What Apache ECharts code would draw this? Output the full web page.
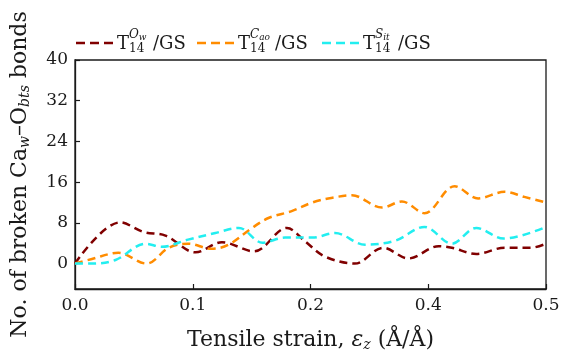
<!DOCTYPE html>
<html>
<head>
<meta charset="utf-8">
<script src="https://cdn.jsdelivr.net/npm/echarts@6/dist/echarts.min.js"></script>
<style>
  html, body { margin: 0; padding: 0; background: #fff; }
  #chart { width: 567px; height: 350px; }
</style>
</head>
<body>
<div id="chart"></div>
<script>
// Broken Ca_w–O_bts bond counts versus tensile strain for three T14 configurations.
const xTickLabels = ['0.0', '0.1', '0.2', '0.4', '0.5'];
const yTicks = [0, 8, 16, 24, 32, 40];

const strainOw = [0, 0.048, 0.073, 0.096, 0.128, 0.156, 0.190, 0.225, 0.244, 0.265, 0.297, 0.327, 0.354, 0.386, 0.400, 0.426, 0.456, 0.484, 0.5];
const bondsOw  = [0, 8.1, 6.2, 5.5, 2.2, 4.2, 2.4, 7.0, 4.4, 1.4, 0.0, 3.1, 1.0, 3.4, 3.1, 1.9, 3.1, 3.1, 3.9];

const strainCao = [0, 0.018, 0.046, 0.076, 0.0995, 0.120, 0.145, 0.163, 0.188, 0.206, 0.230, 0.252, 0.272, 0.294, 0.326, 0.347, 0.371, 0.403, 0.428, 0.456, 0.477, 0.5];
const bondsCao  = [0, 0.9, 2.1, 0.0, 3.1, 3.9, 2.9, 3.7, 7.0, 9.0, 10.3, 12.0, 12.9, 13.4, 11.0, 12.2, 9.9, 15.2, 12.8, 14.1, 13.1, 12.0];

const strainSit = [0, 0.018, 0.043, 0.075, 0.092, 0.120, 0.149, 0.174, 0.199, 0.223, 0.252, 0.276, 0.308, 0.340, 0.371, 0.400, 0.426, 0.455, 0.5];
const bondsSit  = [0, 0.0, 0.7, 3.9, 3.3, 4.7, 6.0, 7.0, 4.1, 5.1, 5.1, 6.0, 3.7, 4.5, 7.2, 3.9, 7.0, 4.9, 7.2];

const seriesSup = ['Ow', 'Cao', 'Sit'];
const seriesColors = ['#800000', '#ff8c00', '#22eef0'];

const FONT = '"DejaVu Serif", "Liberation Serif", serif';
const INK = '#1a1a1a';
const dash = [8, 5];

function pairs(xs, ys) { return xs.map((x, i) => [x, ys[i]]); }

function lineSeries(name, xs, ys, color) {
  return {
    name: name,
    type: 'line',
    data: pairs(xs, ys),
    smooth: 0.35,
    showSymbol: false,
    lineStyle: { color: color, width: 2.5, type: dash },
    itemStyle: { color: color },
    z: 3
  };
}

// Legend entries: dashed sample, T with stacked super/subscript, then /GS
const legendX = [76, 197, 322];
const slashX = [153, 275, 398];
const legendY = 43;
const legendGraphics = [];
seriesSup.forEach((sup, i) => {
  const x0 = legendX[i];
  const base = sup.charAt(0);
  const tail = sup.slice(1);
  legendGraphics.push({
    type: 'line',
    shape: { x1: x0, y1: legendY, x2: x0 + 37, y2: legendY },
    style: { stroke: seriesColors[i], lineWidth: 2.5, lineDash: [9, 5] }
  });
  legendGraphics.push({
    type: 'text',
    x: x0 + 41, y: legendY + 1,
    style: { text: 'T', font: '18px ' + FONT, fill: INK, textVerticalAlign: 'middle' }
  });
  legendGraphics.push({
    type: 'text',
    x: x0 + 53, y: legendY - 1,
    style: {
      text: '{b|' + base + '}{t|' + tail + '}',
      fill: INK,
      textVerticalAlign: 'bottom',
      rich: {
        b: { fontFamily: FONT, fontSize: 12, fontStyle: 'italic', fill: INK },
        t: { fontFamily: FONT, fontSize: 9, fontStyle: 'italic', fill: INK, padding: [5, 0, 0, 0] }
      }
    }
  });
  legendGraphics.push({
    type: 'text',
    x: x0 + 53, y: legendY,
    style: { text: '14', font: '12px ' + FONT, fill: INK, textVerticalAlign: 'top' }
  });
  legendGraphics.push({
    type: 'text',
    x: slashX[i], y: legendY + 1,
    style: { text: '/GS', font: '18px ' + FONT, fill: INK, textVerticalAlign: 'middle' }
  });
});

const chart = echarts.init(document.getElementById('chart'), null, { renderer: 'canvas' });
chart.setOption({
  animation: false,
  backgroundColor: '#fff',
  grid: {
    left: 75, right: 21, top: 60, bottom: 61,
    outerBoundsMode: 'none',
    containLabel: false,
    show: true, borderColor: INK, borderWidth: 1.3, backgroundColor: 'transparent'
  },
  xAxis: {
    type: 'value',
    min: 0, max: 0.5, interval: 0.125,
    axisLine: { show: true, onZero: false, lineStyle: { color: INK, width: 1.3 } },
    axisTick: { show: true, inside: true, length: 5, lineStyle: { color: INK, width: 1.2 } },
    axisLabel: {
      formatter: function (v) { return xTickLabels[Math.round(v / 0.125)]; },
      fontFamily: FONT, fontSize: 17, color: INK, margin: 8
    },
    splitLine: { show: false },
    name: '{r|Tensile strain, }{i|ε}{s|z}{r| (Å/Å)}',
    nameLocation: 'middle',
    nameGap: 39,
    nameTextStyle: {
      rich: {
        r: { fontFamily: FONT, fontSize: 22, color: INK },
        i: { fontFamily: FONT, fontSize: 22, fontStyle: 'italic', color: INK },
        s: { fontFamily: FONT, fontSize: 14, fontStyle: 'italic', color: INK, padding: [10, 0, 0, 0] }
      }
    }
  },
  yAxis: {
    type: 'value',
    min: -5, max: 40,
    axisLine: { show: true, lineStyle: { color: INK, width: 1.3 } },
    axisTick: { show: true, inside: true, length: 5, customValues: yTicks, lineStyle: { color: INK, width: 1.2 } },
    axisLabel: { customValues: yTicks, fontFamily: FONT, fontSize: 17, color: INK, margin: 7 },
    splitLine: { show: false },
    name: '{r|No. of broken Ca}{s|w}{r|–O}{s|bts}{r| bonds}',
    nameLocation: 'middle',
    nameRotate: 90,
    nameGap: 43,
    nameTextStyle: {
      rich: {
        r: { fontFamily: FONT, fontSize: 22, color: INK },
        s: { fontFamily: FONT, fontSize: 14, fontStyle: 'italic', color: INK, padding: [10, 0, 0, 0] }
      }
    }
  },
  series: [
    lineSeries('T14 Ow/GS', strainOw, bondsOw, seriesColors[0]),
    lineSeries('T14 Cao/GS', strainCao, bondsCao, seriesColors[1]),
    lineSeries('T14 Sit/GS', strainSit, bondsSit, seriesColors[2])
  ],
  graphic: legendGraphics
});
</script>
</body>
</html>
